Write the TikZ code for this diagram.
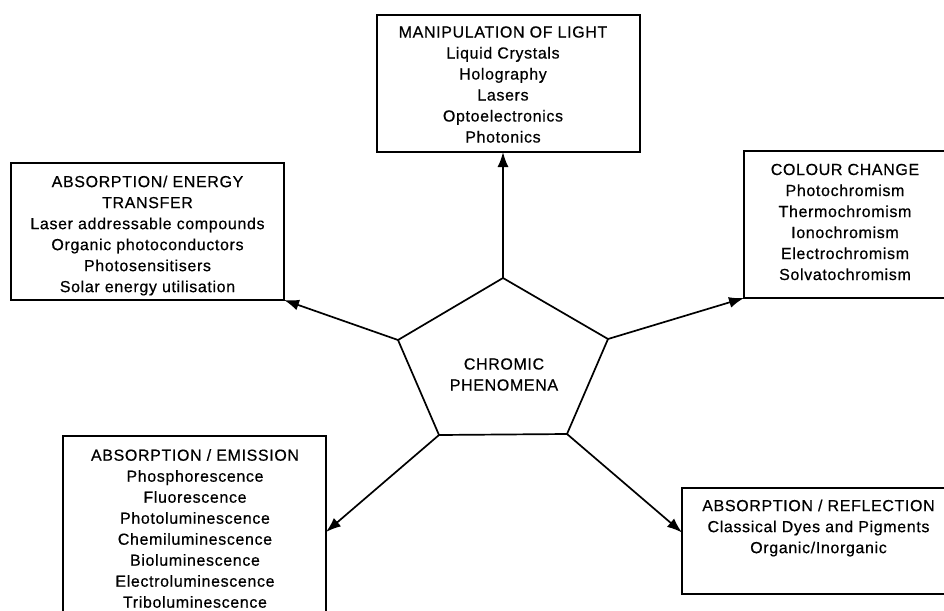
\documentclass[tikz,border=0pt]{standalone}
\usepackage{fontspec}
\setmainfont{Liberation Sans}[LetterSpace=4,FakeBold=0.5]
\usetikzlibrary{arrows.meta,calc}

\tikzset{
  panel/.style={draw, line width=1.7pt, inner sep=0pt, outer sep=0pt, fill=none},
  entry/.style={align=center, inner sep=0pt, font=\fontsize{16}{21}\selectfont},
  link/.style={line width=1.7pt, -{Latex[length=15pt,width=11pt]}},
  penta/.style={line width=1.7pt, line join=miter}
}

\begin{document}
\begin{tikzpicture}[x=1pt,y=-1pt]
\useasboundingbox (0,0) rectangle (944,610);
\fill[white] (0,0) rectangle (944,610);
\clip (0,0) rectangle (944,610);

% outer boxes
\node[panel, minimum width=263pt, minimum height=137pt] (b1) at (508.5,83.5) {};
\node[panel, minimum width=273pt, minimum height=137pt] (b2) at (147.5,231.5) {};
\node[panel, minimum width=216pt, minimum height=147pt] (b3) at (852,224.5) {};
\node[panel, minimum width=263pt, minimum height=192pt] (b4) at (194.5,532) {};
\node[panel, minimum width=278pt, minimum height=106pt] (b5) at (821,541) {};

% box contents
\node[entry] (t1) at (503,84.5) {MANIPULATION OF LIGHT\\Liquid Crystals\\Holography\\Lasers\\Optoelectronics\\Photonics};
\node[entry] (t2) at (147.5,235.5) {ABSORPTION/ ENERGY\\TRANSFER\\Laser addressable compounds\\Organic photoconductors\\Photosensitisers\\Solar energy utilisation};
\node[entry] (t3) at (845,222) {COLOUR CHANGE\\Photochromism\\Thermochromism\\Ionochromism\\Electrochromism\\Solvatochromism};
\node[entry] (t4) at (195,528.5) {ABSORPTION / EMISSION\\Phosphorescence\\Fluorescence\\Photoluminescence\\Chemiluminescence\\Bioluminescence\\Electroluminescence\\Triboluminescence};
\node[entry] (t5) at (818.5,528) {ABSORPTION / REFLECTION\\Classical Dyes and Pigments\\Organic/Inorganic};

% central pentagon
\coordinate (pt) at (503,278);
\coordinate (pul) at (398,340);
\coordinate (pur) at (608,339);
\coordinate (pll) at (439,435);
\coordinate (plr) at (567,434);
\draw[penta] (pt) -- (pur) -- (plr) -- (pll) -- (pul) -- cycle;
\node[entry] (hub) at (504,374.5) {CHROMIC\\PHENOMENA};

% connectors
\draw[link] (pt) -- (pt |- b1.south);
\draw[link] (pul) -- (b2.south east);
\draw[link] (pur) -- (b3.south west);
\draw[link] (pll) -- (b4.east);
\draw[link] (plr) -- ($(b5.north west)!0.42!(b5.south west)$);
\end{tikzpicture}
\end{document}
